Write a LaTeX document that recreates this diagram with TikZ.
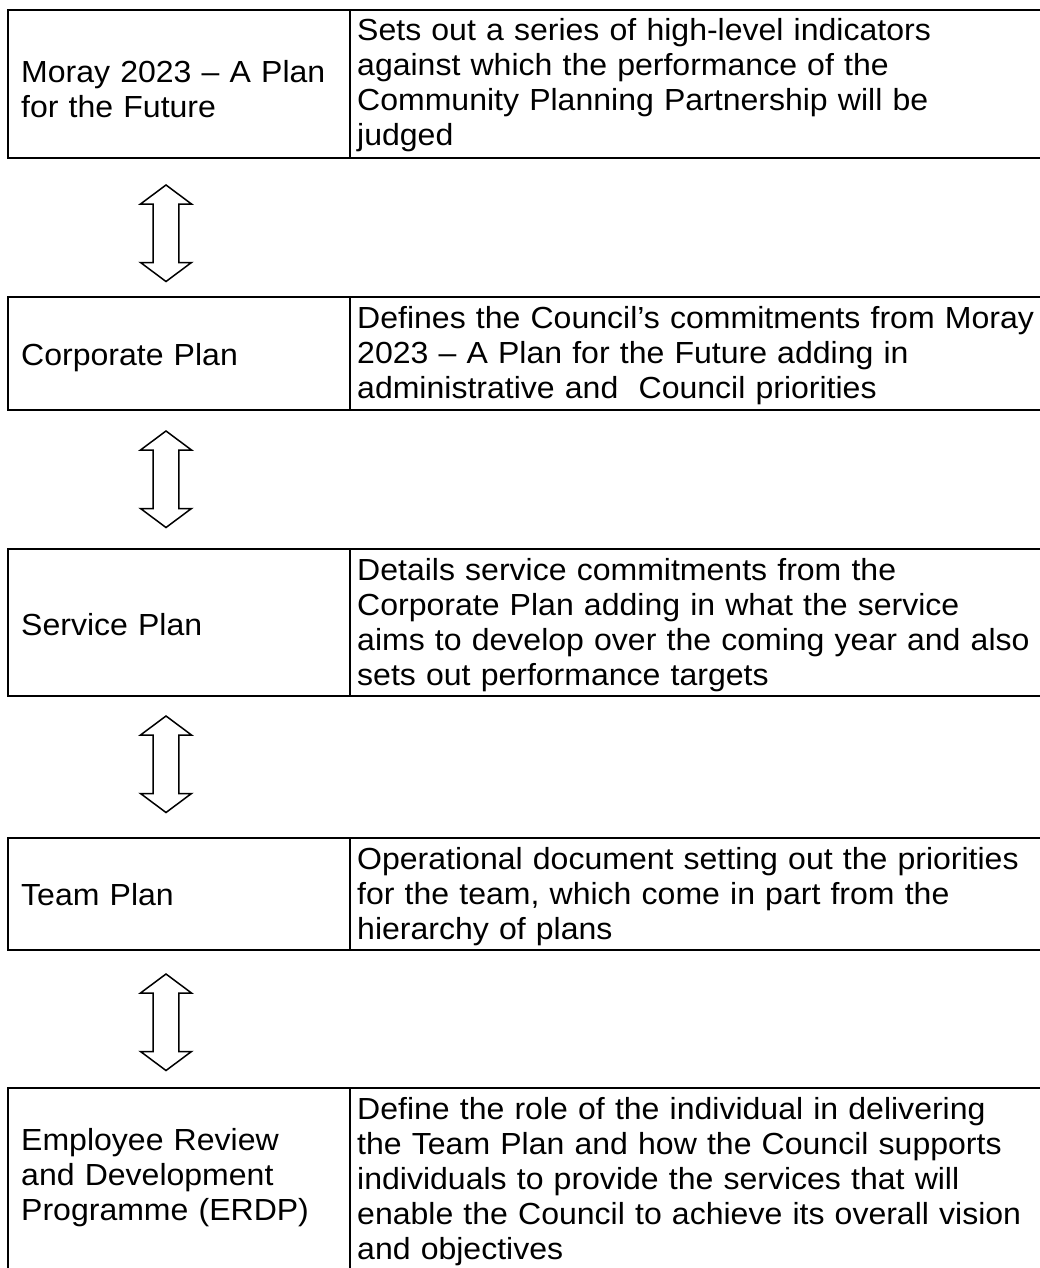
\documentclass[tikz,border=0pt]{standalone}
\usepackage{fontspec}
\setmainfont{Liberation Sans}[FakeStretch=1.05]
\begin{document}
\begin{tikzpicture}[x=1pt,y=-1pt,
  frame/.style={line width=2.6pt},
  divider/.style={line width=2pt},
  lefttext/.style={inner sep=0pt, anchor=base west, align=left, text width=330pt,
    font=\fontsize{30.5}{35}\selectfont},
  righttext/.style={inner sep=0pt, anchor=base west, align=left, text width=700pt,
    font=\fontsize{30.5}{35}\selectfont},
  udarrow/.style={line width=1.5pt, line join=miter},
  updown/.pic={
    \draw[udarrow] (0,0) -- (25.5,19) -- (12.8,19) -- (12.8,77.5) -- (25.5,77.5)
      -- (0,96.5) -- (-25.5,77.5) -- (-12.8,77.5) -- (-12.8,19) -- (-25.5,19) -- cycle;
  }
]
\useasboundingbox (0,0) rectangle (1040,1268);
\clip (0,0) rectangle (1040,1268);

% table rows: outer frame and column divider
\draw[frame] (8,10) rectangle (1050,158);
\draw[divider] (350,10) -- (350,158);
\draw[frame] (8,297) rectangle (1050,410);
\draw[divider] (350,297) -- (350,410);
\draw[frame] (8,549) rectangle (1050,696);
\draw[divider] (350,549) -- (350,696);
\draw[frame] (8,838) rectangle (1050,950);
\draw[divider] (350,838) -- (350,950);
\draw[frame] (8,1088) rectangle (1050,1290);
\draw[divider] (350,1088) -- (350,1290);

% row 1
\node[lefttext] (moray) at (21,83) {Moray 2023 – A Plan\\for the Future};
\node[righttext] (morayd) at (357,41) {Sets out a series of high-level indicators\\against which the performance of the\\Community Planning Partnership will be\\judged};

% row 2
\node[lefttext] (corp) at (21,365) {Corporate Plan};
\node[righttext] (corpd) at (357,328) {Defines the Council’s commitments from Moray\\2023 – A Plan for the Future adding in\\administrative and \ Council priorities};

% row 3
\node[lefttext] (serv) at (21,635) {Service Plan};
\node[righttext] (servd) at (357,580) {Details service commitments from the\\Corporate Plan adding in what the service\\aims to develop over the coming year and also\\sets out performance targets};

% row 4
\node[lefttext] (team) at (21,905) {Team Plan};
\node[righttext] (teamd) at (357,869) {Operational document setting out the priorities\\for the team, which come in part from the\\hierarchy of plans};

% row 5
\node[lefttext] (erdp) at (21,1150) {Employee Review\\and Development\\Programme (ERDP)};
\node[righttext] (erdpd) at (357,1119) {Define the role of the individual in delivering\\the Team Plan and how the Council supports\\individuals to provide the services that will\\enable the Council to achieve its overall vision\\and objectives};

% two-way arrows between the levels
\pic at (166,185) {updown};
\pic at (166,431) {updown};
\pic at (166,716) {updown};
\pic at (166,974) {updown};
\end{tikzpicture}
\end{document}
